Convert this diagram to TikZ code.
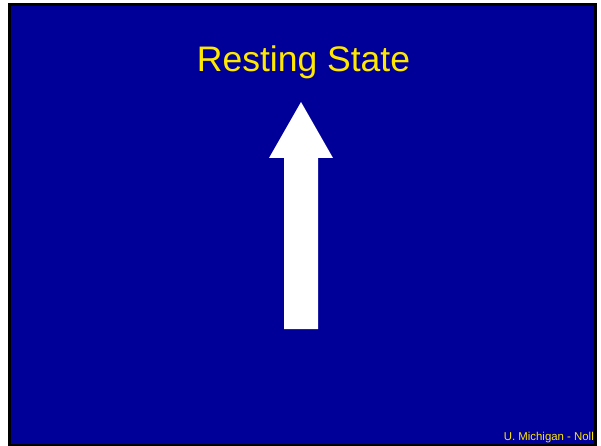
\documentclass[tikz,border=0pt]{standalone}
\usepackage{fontspec}
\setmainfont{Liberation Sans}
\definecolor{slideblue}{RGB}{0,0,153}
\definecolor{slideyellow}{RGB}{255,232,0}
\begin{document}
\begin{tikzpicture}[x=1pt,y=-1pt,
  titletext/.style={text=slideyellow,font=\fontsize{35.5}{40}\selectfont,inner sep=0pt},
  foottext/.style={text=slideyellow,font=\fontsize{11.4}{13}\selectfont,inner sep=0pt},
  bigarrow/.style={fill=white,draw=none}]
\useasboundingbox (0,0) rectangle (601,446);
\fill[white] (0,0) rectangle (601,446);
\fill[black] (8,3) rectangle (597,446);
\fill[slideblue] (11,6) rectangle (594,444);
\node[titletext,anchor=base] (title) at (303.5,72) {Resting State};
\fill[bigarrow] (301,102) -- (333,158) -- (318,158) -- (318,329) -- (284,329) -- (284,158) -- (269,158) -- cycle;
\node[foottext,anchor=base east] (foot) at (594,440) {U. Michigan - Noll};
\end{tikzpicture}
\end{document}
